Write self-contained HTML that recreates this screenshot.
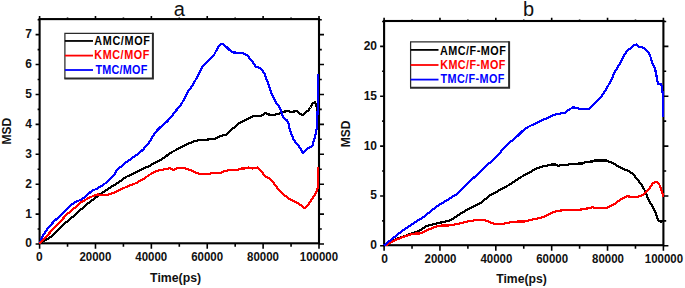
<!DOCTYPE html><html><head><meta charset="utf-8"><style>html,body{margin:0;padding:0;background:#fff;}svg{display:block;}text{font-family:"Liberation Sans",sans-serif;}</style></head><body>
<svg width="685" height="288" viewBox="0 0 685 288">
<rect width="685" height="288" fill="#fff"/>
<path d="M39.60,243.3v5.5M39.60,19.1v-3.2M67.54,243.3v3.5M67.54,19.1v-1.6M95.48,243.3v5.5M95.48,19.1v-3.2M123.42,243.3v3.5M123.42,19.1v-1.6M151.36,243.3v5.5M151.36,19.1v-3.2M179.30,243.3v3.5M179.30,19.1v-1.6M207.24,243.3v5.5M207.24,19.1v-3.2M235.18,243.3v3.5M235.18,19.1v-1.6M263.12,243.3v5.5M263.12,19.1v-3.2M291.06,243.3v3.5M291.06,19.1v-1.6M319.00,243.3v5.5M319.00,19.1v-3.2M39.6,244.00h-4M319,244.00h5M39.6,229.04h-2M319,229.04h2.8M39.6,214.09h-4M319,214.09h5M39.6,199.13h-2M319,199.13h2.8M39.6,184.18h-4M319,184.18h5M39.6,169.22h-2M319,169.22h2.8M39.6,154.27h-4M319,154.27h5M39.6,139.31h-2M319,139.31h2.8M39.6,124.36h-4M319,124.36h5M39.6,109.41h-2M319,109.41h2.8M39.6,94.45h-4M319,94.45h5M39.6,79.50h-2M319,79.50h2.8M39.6,64.54h-4M319,64.54h5M39.6,49.59h-2M319,49.59h2.8M39.6,34.63h-4M319,34.63h5M39.6,19.68h-2M319,19.68h2.8" stroke="#000" stroke-width="1.6" fill="none"/>
<rect x="39.6" y="19.1" width="279.4" height="224.20000000000002" fill="none" stroke="#000" stroke-width="2.1"/>
<path d="M384.10,245.2v5.5M384.10,21.0v-3.2M412.03,245.2v3.5M412.03,21.0v-1.6M439.96,245.2v5.5M439.96,21.0v-3.2M467.89,245.2v3.5M467.89,21.0v-1.6M495.82,245.2v5.5M495.82,21.0v-3.2M523.75,245.2v3.5M523.75,21.0v-1.6M551.68,245.2v5.5M551.68,21.0v-3.2M579.61,245.2v3.5M579.61,21.0v-1.6M607.54,245.2v5.5M607.54,21.0v-3.2M635.47,245.2v3.5M635.47,21.0v-1.6M663.40,245.2v5.5M663.40,21.0v-3.2M384.1,245.80h-4M663.4,245.80h5M384.1,220.88h-2M663.4,220.88h2.8M384.1,195.95h-4M663.4,195.95h5M384.1,171.03h-2M663.4,171.03h2.8M384.1,146.10h-4M663.4,146.10h5M384.1,121.17h-2M663.4,121.17h2.8M384.1,96.25h-4M663.4,96.25h5M384.1,71.32h-2M663.4,71.32h2.8M384.1,46.40h-4M663.4,46.40h5M384.1,21.47h-2M663.4,21.47h2.8" stroke="#000" stroke-width="1.6" fill="none"/>
<rect x="384.1" y="21.0" width="279.29999999999995" height="224.2" fill="none" stroke="#000" stroke-width="2.1"/>
<g fill="none" stroke-width="2.2" stroke-linejoin="round" stroke-linecap="round" shape-rendering="crispEdges">
<polyline points="40.0,243.0 44.0,241.0 47.7,238.9 52.6,235.5 57.4,230.6 61.2,226.6 64.4,223.8 67.5,221.2 70.6,218.2 73.8,216.5 79.0,211.2 82.2,208.4 88.4,203.0 92.0,200.4 97.6,196.2 103.1,192.1 108.7,188.6 114.2,185.1 116.0,184.1 121.2,180.4 126.4,176.8 131.6,174.4 136.8,171.8 142.0,169.2 144.0,168.2 149.2,166.1 154.4,163.0 159.6,160.4 164.8,157.3 170.0,153.1 174.0,151.0 176.0,150.0 180.7,147.6 185.0,145.2 189.4,143.2 194.0,141.4 198.0,140.4 201.4,139.8 206.7,139.7 212.0,138.8 215.3,138.6 220.5,136.0 226.2,134.8 231.0,130.2 235.6,126.2 240.3,122.3 246.6,119.6 252.8,116.4 257.5,115.9 261.2,115.8 262.2,115.3 265.3,113.0 268.4,114.5 273.1,115.0 277.8,114.1 282.5,111.9 288.1,111.1 291.2,111.9 296.5,111.1 298.0,111.7 300.1,114.3 302.7,114.8 305.8,112.2 308.4,110.4 310.5,107.5 312.6,103.3 315.0,102.1 316.2,104.9 317.3,110.6 318.0,114.0" stroke="#000"/>
<polyline points="40.0,243.0 41.9,237.6 43.8,234.2 45.8,231.1 48.7,227.5 51.6,224.0 54.5,220.9 57.4,218.2 61.2,214.4 64.4,211.5 67.5,208.6 70.6,205.6 74.4,202.6 80.6,199.8 85.3,196.7 88.0,194.3 92.2,190.6 96.3,189.0 101.5,185.9 106.8,182.3 112.0,177.1 114.0,175.2 114.2,175.4 116.0,171.2 119.8,167.6 123.7,164.3 127.6,161.2 131.5,158.5 135.4,155.8 139.3,152.8 143.2,149.5 147.9,144.0 150.8,139.8 153.5,135.2 156.7,130.8 160.0,127.5 163.6,124.7 167.0,121.5 170.6,117.8 175.8,110.8 181.0,104.8 185.3,96.9 188.0,91.7 188.2,91.0 192.3,85.9 195.5,80.0 198.6,74.5 201.7,68.2 203.8,65.0 209.0,59.8 214.2,54.6 217.4,48.3 220.5,44.6 223.0,43.8 226.8,47.3 229.9,50.4 233.0,52.5 238.3,52.7 243.5,53.3 247.7,55.8 251.9,61.0 256.0,66.7 260.2,67.9 264.4,73.5 267.5,81.9 271.7,94.4 274.8,100.2 276.9,103.9 279.5,107.0 281.0,110.6 282.6,115.8 285.2,119.5 287.3,120.5 288.9,125.0 289.7,129.3 293.6,139.7 298.9,146.2 302.8,152.7 305.0,151.2 307.8,148.5 310.6,147.1 312.6,145.0 313.3,142.2 314.7,138.0 315.8,133.2 316.8,128.3 317.2,120.0 318.2,98.0 318.2,74.6" stroke="#00f"/>
<polyline points="40.0,243.0 44.0,239.0 48.0,234.6 52.0,230.3 55.0,227.2 58.1,223.8 61.2,220.6 64.4,217.0 67.5,213.9 70.6,211.2 73.8,208.6 77.4,205.5 80.6,202.5 86.9,199.0 91.6,196.7 95.0,195.2 97.6,194.4 101.5,195.0 106.8,195.0 110.9,193.8 116.1,191.7 120.3,189.6 124.0,188.0 126.4,186.8 131.6,184.9 136.8,182.8 142.0,179.7 144.0,178.6 149.2,175.0 154.4,171.9 159.6,170.3 164.8,169.3 170.0,168.2 172.1,169.3 174.0,169.8 177.5,168.0 184.4,168.3 188.6,169.4 194.2,171.9 199.7,173.9 209.4,173.9 212.2,172.9 220.6,172.9 224.7,171.1 228.9,170.1 237.2,170.1 241.4,168.5 244.2,168.5 248.3,167.5 252.5,168.5 257.7,167.5 260.8,170.6 264.0,174.8 267.1,177.5 271.2,179.6 274.4,184.2 278.5,189.4 283.8,194.6 289.0,198.8 294.2,201.2 299.4,204.0 304.0,208.2 306.7,206.7 310.8,200.8 315.0,194.6 318.3,187.0 318.4,167.9" stroke="#f00"/>
<polyline points="384.5,245.0 390.0,241.8 397.1,238.8 406.4,235.5 411.1,233.6 413.0,233.1 414.8,232.4 418.0,231.4 420.5,230.2 423.5,228.0 426.2,226.2 429.5,225.1 432.5,224.4 436.0,223.6 439.8,222.8 444.0,221.8 448.6,221.0 453.0,218.6 458.2,215.3 462.0,212.8 465.8,210.5 470.0,208.2 475.6,205.4 481.1,202.6 485.3,199.2 489.4,195.7 495.0,192.9 500.6,189.4 506.1,186.7 511.7,183.2 517.2,179.7 520.0,177.6 525.2,174.8 530.4,172.1 535.6,168.8 540.8,166.9 546.0,165.8 551.2,164.6 555.4,164.4 558.5,165.8 561.7,164.9 567.9,164.8 570.0,163.8 582.3,163.5 584.4,162.5 587.5,161.7 592.7,161.5 594.8,160.4 606.2,160.4 609.4,162.0 613.0,163.0 616.7,165.6 620.8,167.7 625.0,169.8 627.4,170.2 632.6,173.7 637.8,179.8 642.1,185.8 645.6,191.9 648.6,200.0 652.3,206.1 655.9,213.3 658.3,220.6 660.8,221.6 662.6,221.2" stroke="#000"/>
<polyline points="384.5,245.0 386.8,244.8 390.5,242.5 395.2,240.2 399.9,238.3 404.6,236.4 409.2,235.0 413.0,233.9 415.8,233.4 420.0,233.5 429.5,229.2 435.0,226.8 439.1,225.8 444.0,225.4 448.6,225.4 453.0,224.8 458.2,223.9 465.8,222.0 470.0,220.8 471.7,221.1 476.9,219.6 483.4,219.6 488.0,221.4 495.0,224.3 499.7,224.3 506.7,223.1 513.7,221.7 525.4,221.4 532.4,219.6 539.9,217.9 544.7,216.3 550.8,213.2 558.1,210.8 564.2,210.2 577.6,210.2 583.6,209.0 589.7,208.1 592.1,207.2 595.2,208.1 606.7,208.1 610.4,206.0 615.2,203.5 620.4,199.7 627.4,196.1 631.7,197.2 636.0,197.0 640.4,196.2 644.0,194.0 646.6,191.5 649.3,188.9 652.6,183.6 656.5,181.7 659.3,184.5 661.2,189.3 662.6,194.1 662.6,196.0" stroke="#f00"/>
<polyline points="384.5,245.0 386.5,243.6 390.0,240.6 393.5,237.8 396.9,235.0 400.4,232.3 403.9,229.8 407.4,227.3 410.0,225.6 413.2,223.5 417.0,221.1 420.5,219.0 424.0,216.7 424.9,215.8 429.5,212.2 434.0,208.6 439.1,204.8 444.0,202.0 448.6,199.4 452.0,196.8 455.3,195.2 458.7,192.7 462.0,189.3 465.3,186.0 468.7,182.7 472.0,179.3 475.3,176.4 477.8,174.4 481.7,170.5 485.6,166.6 489.5,163.0 493.4,159.5 498.1,154.8 501.2,151.3 504.4,147.8 507.2,144.7 510.0,141.6 511.5,141.1 517.2,136.3 522.9,130.6 528.6,126.7 538.2,122.0 545.8,118.7 553.5,114.9 559.2,113.9 561.2,113.3 565.2,112.8 569.1,109.6 573.0,107.4 576.9,107.8 578.4,108.6 589.4,108.6 594.0,104.2 598.8,99.5 601.9,95.6 606.6,88.6 611.2,80.0 614.6,72.5 620.8,62.1 625.0,53.8 628.1,50.0 631.2,47.9 634.4,45.0 636.5,44.4 638.5,46.5 641.7,47.1 644.9,48.5 648.5,52.2 651.0,58.2 652.4,63.6 654.9,68.5 656.1,73.4 657.3,80.7 658.5,84.3 661.0,84.3 662.2,88.0 662.7,94.0 662.7,116.0" stroke="#00f"/>
</g>
<g font-weight="bold" font-size="12" fill="#111">
<text x="32.0" y="247.4" text-anchor="end">0</text>
<text x="32.0" y="217.5" text-anchor="end">1</text>
<text x="32.0" y="187.6" text-anchor="end">2</text>
<text x="32.0" y="157.7" text-anchor="end">3</text>
<text x="32.0" y="127.8" text-anchor="end">4</text>
<text x="32.0" y="97.8" text-anchor="end">5</text>
<text x="32.0" y="67.9" text-anchor="end">6</text>
<text x="32.0" y="38.0" text-anchor="end">7</text>
<text x="377.0" y="249.2" text-anchor="end">0</text>
<text x="377.0" y="199.4" text-anchor="end">5</text>
<text x="377.0" y="149.5" text-anchor="end">10</text>
<text x="377.0" y="99.7" text-anchor="end">15</text>
<text x="377.0" y="49.8" text-anchor="end">20</text>
<text x="36.1" y="260.6" textLength="6.7" lengthAdjust="spacingAndGlyphs">0</text>
<text x="381.2" y="262.6" textLength="6.7" lengthAdjust="spacingAndGlyphs">0</text>
<text x="79.4" y="260.6" textLength="31.9" lengthAdjust="spacingAndGlyphs">20000</text>
<text x="424.5" y="262.6" textLength="31.9" lengthAdjust="spacingAndGlyphs">20000</text>
<text x="135.3" y="260.6" textLength="31.9" lengthAdjust="spacingAndGlyphs">40000</text>
<text x="480.4" y="262.6" textLength="31.9" lengthAdjust="spacingAndGlyphs">40000</text>
<text x="191.2" y="260.6" textLength="31.9" lengthAdjust="spacingAndGlyphs">60000</text>
<text x="536.2" y="262.6" textLength="31.9" lengthAdjust="spacingAndGlyphs">60000</text>
<text x="247.1" y="260.6" textLength="31.9" lengthAdjust="spacingAndGlyphs">80000</text>
<text x="592.1" y="262.6" textLength="31.9" lengthAdjust="spacingAndGlyphs">80000</text>
<text x="299.8" y="260.6" textLength="38.2" lengthAdjust="spacingAndGlyphs">100000</text>
<text x="644.8" y="262.6" textLength="38.2" lengthAdjust="spacingAndGlyphs">100000</text>
</g>
<g font-weight="bold" font-size="12.5" fill="#111">
<text x="150.1" y="281.8" font-size="13.4" textLength="51" lengthAdjust="spacingAndGlyphs">Time(ps)</text>
<text x="496.2" y="283.3" font-size="13.4" textLength="50.6" lengthAdjust="spacingAndGlyphs">Time(ps)</text>
<text transform="translate(11.3,131.2) rotate(-90)" text-anchor="middle" font-size="12">MSD</text>
<text transform="translate(350.3,134) rotate(-90)" text-anchor="middle" font-size="12">MSD</text>
</g>
<text x="179.2" y="15.6" text-anchor="middle" font-size="20" fill="#111">a</text>
<text x="528.5" y="15.9" text-anchor="middle" font-size="20" fill="#111">b</text>
<rect x="64.9" y="33.3" width="88.0" height="45.2" fill="#fff"/>
<path d="M64.9,78.5V33.3H152.9" fill="none" stroke="#2a2a2a" stroke-width="1.25"/>
<path d="M152.9,32.699999999999996V78.5H64.30000000000001" fill="none" stroke="#2a2a2a" stroke-width="2"/>
<line x1="64.9" y1="40.95" x2="93" y2="40.95" stroke="#000" stroke-width="1.8"/>
<text transform="translate(94.3,44.6) scale(0.88,1)" font-size="12.3" font-weight="bold" fill="#000" textLength="63.07" lengthAdjust="spacing">AMC/MOF</text>
<line x1="64.9" y1="55.6" x2="93" y2="55.6" stroke="#f00" stroke-width="1.8"/>
<text transform="translate(94.3,59.0) scale(0.88,1)" font-size="12.3" font-weight="bold" fill="#f00" textLength="62.50" lengthAdjust="spacing">KMC/MOF</text>
<line x1="64.9" y1="70" x2="93" y2="70" stroke="#00f" stroke-width="1.8"/>
<text transform="translate(95.4,74.0) scale(0.88,1)" font-size="12.3" font-weight="bold" fill="#00f" textLength="58.98" lengthAdjust="spacing">TMC/MOF</text>
<rect x="410.6" y="41.9" width="98.5" height="45.9" fill="#fff"/>
<path d="M410.6,87.8V41.9H509.1" fill="none" stroke="#2a2a2a" stroke-width="1.25"/>
<path d="M509.1,41.3V87.8H410.0" fill="none" stroke="#2a2a2a" stroke-width="2"/>
<line x1="410.6" y1="49.9" x2="438.5" y2="49.9" stroke="#000" stroke-width="1.8"/>
<text transform="translate(439.9,54.9) scale(0.88,1)" font-size="12.3" font-weight="bold" fill="#000" textLength="75.00" lengthAdjust="spacing">AMC/F-MOF</text>
<line x1="410.6" y1="65" x2="438.5" y2="65" stroke="#f00" stroke-width="1.8"/>
<text transform="translate(440.2,68.9) scale(0.88,1)" font-size="12.3" font-weight="bold" fill="#f00" textLength="74.09" lengthAdjust="spacing">KMC/F-MOF</text>
<line x1="410.6" y1="79.6" x2="438.5" y2="79.6" stroke="#00f" stroke-width="1.8"/>
<text transform="translate(440.5,83.3) scale(0.88,1)" font-size="12.3" font-weight="bold" fill="#00f" textLength="72.50" lengthAdjust="spacing">TMC/F-MOF</text>
</svg></body></html>
